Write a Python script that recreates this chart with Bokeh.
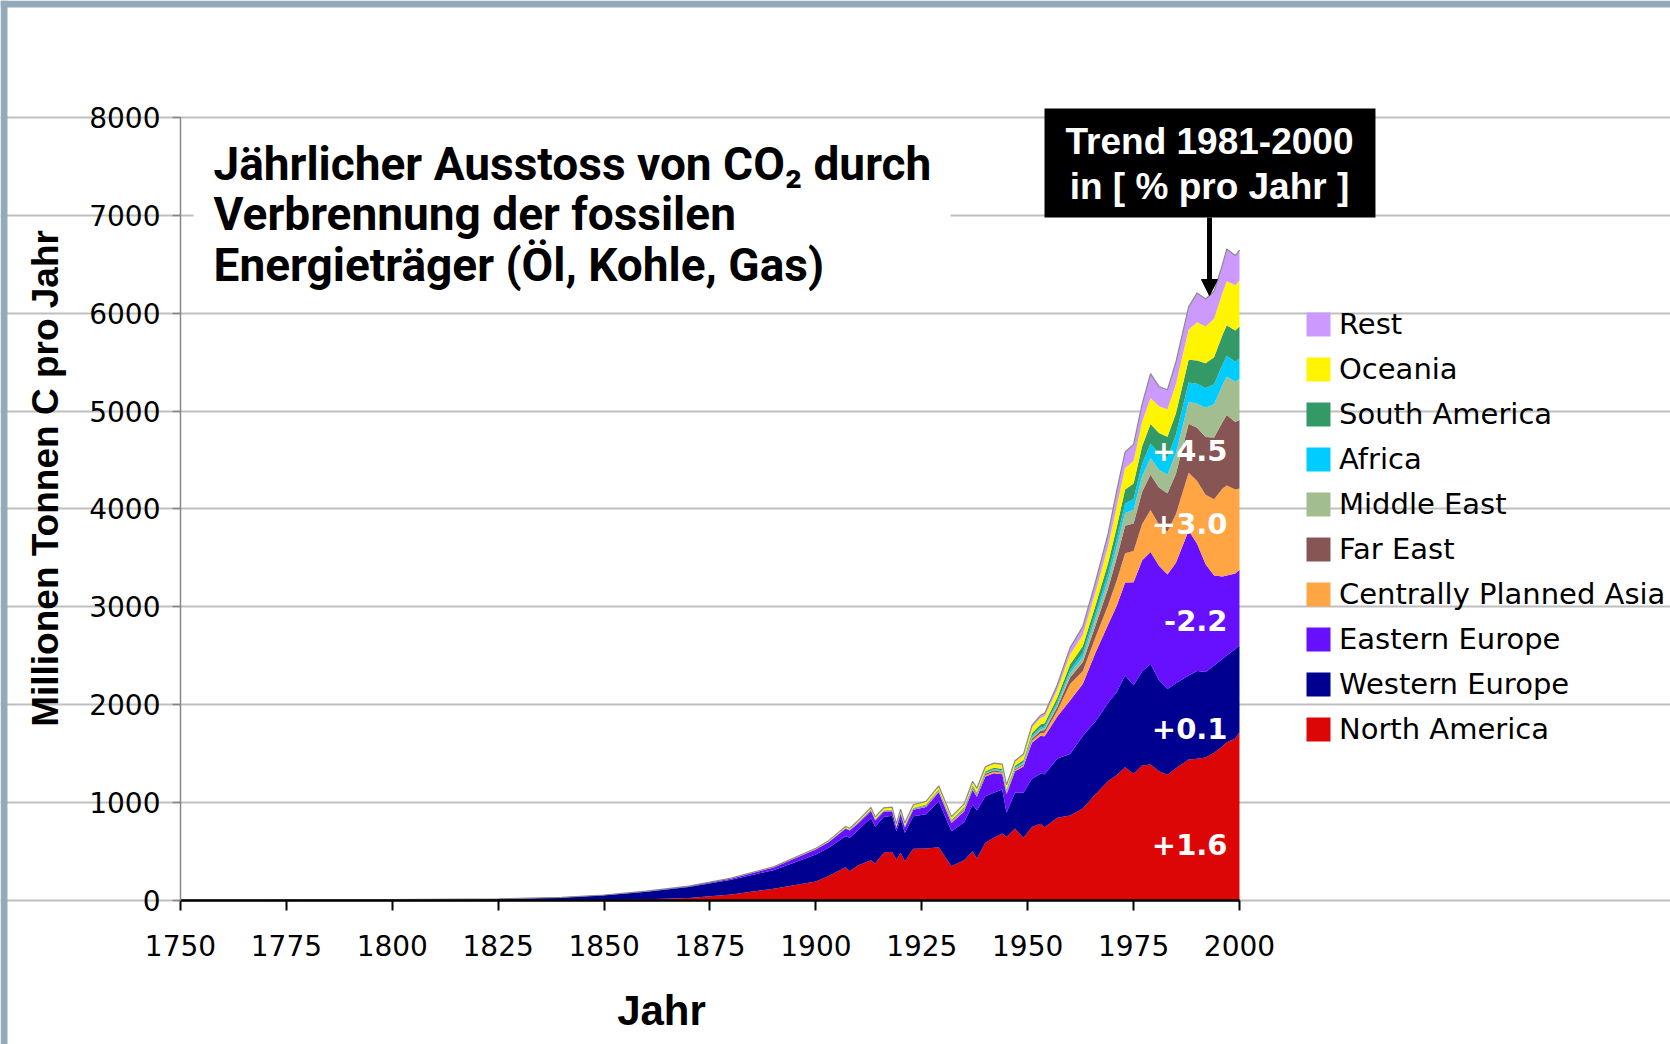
import numpy as np
from bokeh.plotting import figure
from bokeh.models import (ColumnDataSource, Range1d, FixedTicker, Legend, LegendItem,
                          Label, BoxAnnotation, Arrow, NormalHead)
from bokeh.transform import stack
from bokeh.embed import file_html
from bokeh.resources import INLINE

# ---------------- data (million tonnes C per year) ----------------
years = [1750, 1800, 1825, 1840, 1850, 1860, 1870, 1880, 1890, 1900,
         1903, 1907, 1908, 1910, 1913, 1914, 1916, 1918, 1919, 1920,
         1921, 1923, 1926, 1929, 1932, 1935, 1937, 1938, 1940, 1942,
         1944, 1945, 1947, 1949, 1951, 1953, 1954, 1957, 1960, 1963,
         1966, 1969, 1971, 1973, 1975, 1977, 1979, 1981, 1983, 1985,
         1988, 1990, 1992, 1994, 1996, 1997, 1999, 2000]

north_america = [0, 0, 0.5, 2, 5, 12, 25, 60, 120, 195,
                 250, 340, 300, 360, 412, 378, 487, 497, 420, 487,
                 402, 528, 531, 545, 351, 412, 504, 429, 589, 640,
                 684, 650, 735, 640, 750, 783, 749, 845, 868, 940,
                 1085, 1220, 1280, 1362, 1294, 1380, 1390, 1320, 1285, 1350,
                 1440, 1447, 1460, 1510, 1575, 1617, 1655, 1720]

western_europe = [3, 8, 15.5, 29, 48, 78, 112, 152, 190, 275,
                  290, 317, 340, 360, 432, 375, 365, 370, 288, 345,
                  289, 333, 349, 470, 357, 388, 477, 490, 477, 460,
                  450, 246, 365, 460, 493, 511, 540, 605, 630, 740,
                  745, 800, 848, 936, 906, 960, 1028, 930, 875, 870,
                  860, 898, 875, 890, 895, 886, 915, 885]

eastern_europe = [0, 0, 0.5, 1, 3, 5, 8, 14, 28, 50,
                  55, 75, 75, 70, 70, 65, 55, 45, 34, 55,
                  54, 65, 75, 90, 85, 110, 150, 140, 200, 200,
                  155, 190, 220, 270, 370, 386, 390, 430, 545, 533,
                  700, 800, 880, 950, 1052, 1133, 1142, 1170, 1170, 1230,
                  1480, 1300, 1100, 920, 840, 817, 770, 775]

centrally_planned_asia = [0, 0, 0, 0, 0, 0, 0, 0, 0.5, 1,
                          1, 2, 2, 2, 3, 3, 3, 3, 3, 4,
                          4, 5, 6, 8, 8, 10, 12, 12, 14, 15,
                          15, 12, 12, 12, 20, 30, 35, 60, 170, 130,
                          160, 200, 260, 300, 320, 370, 430, 420, 440, 500,
                          590, 640, 710, 780, 900, 920, 860, 830]

far_east = [0, 0, 0, 0, 0, 0, 0, 0, 1, 2,
            2, 3, 3, 3, 4, 4, 5, 5, 5, 6,
            6, 6, 7, 8, 8, 10, 12, 12, 15, 15,
            12, 8, 10, 12, 20, 25, 28, 40, 65, 90,
            120, 170, 230, 280, 280, 330, 360, 380, 390, 410,
            500, 545, 590, 630, 680, 720, 690, 700]

middle_east = [0, 0, 0, 0, 0, 0, 0, 0, 0, 0.5,
               0.5, 0.5, 0.5, 1, 1, 1, 1, 1, 1, 1,
               1, 1, 1.5, 2, 2, 3, 3, 3, 4, 4,
               5, 5, 6, 8, 12, 15, 17, 25, 40, 55,
               70, 90, 110, 130, 140, 160, 170, 180, 190, 210,
               225, 245, 300, 340, 380, 395, 410, 420]

africa = [0, 0, 0, 0, 0, 0, 0, 0, 0, 1,
          1, 2, 2, 2, 3, 3, 3, 3, 3, 3,
          3, 4, 4, 5, 5, 6, 7, 7, 8, 8,
          9, 9, 10, 12, 15, 17, 18, 25, 35, 42,
          52, 68, 82, 98, 110, 128, 150, 168, 178, 190,
          198, 205, 200, 205, 210, 212, 205, 210]

south_america = [0, 0, 0, 0, 0, 0, 0, 0, 0, 1,
                 1, 2, 2, 3, 4, 4, 4, 4, 4, 5,
                 5, 6, 7, 9, 8, 10, 12, 12, 14, 14,
                 15, 15, 18, 22, 28, 32, 35, 45, 58, 68,
                 82, 102, 122, 142, 158, 178, 198, 208, 210, 218,
                 232, 238, 255, 275, 300, 310, 320, 325]

oceania = [0, 0, 0, 0, 0, 0.5, 1, 2, 4, 8,
           10, 12, 12, 15, 18, 18, 20, 22, 22, 24,
           24, 26, 28, 30, 28, 32, 35, 35, 38, 40,
           40, 38, 42, 48, 60, 65, 68, 80, 100, 115,
           135, 170, 210, 220, 230, 250, 265, 275, 280, 300,
           310, 390, 375, 395, 430, 450, 460, 470]

rest = [0, 0, 0, 0, 0, 0, 0, 0, 0, 1,
        1, 2, 2, 2, 3, 3, 3, 3, 3, 3,
        3, 4, 4, 5, 5, 6, 7, 7, 8, 8,
        8, 8, 10, 12, 22, 28, 32, 50, 70, 85,
        105, 130, 160, 165, 170, 180, 250, 200, 200, 225,
        230, 300, 280, 280, 290, 330, 305, 310]

series_keys = ["north_america", "western_europe", "eastern_europe",
               "centrally_planned_asia", "far_east", "middle_east",
               "africa", "south_america", "oceania", "rest"]
series_labels = ["North America", "Western Europe", "Eastern Europe",
                 "Centrally Planned Asia", "Far East", "Middle East",
                 "Africa", "South America", "Oceania", "Rest"]
colors = ["#DD0606", "#000090", "#6610FF", "#FFA544", "#885555",
          "#A2BD8F", "#00CCFF", "#339966", "#FFF500", "#CC99FF"]

x_ticks = [1750, 1775, 1800, 1825, 1850, 1875, 1900, 1925, 1950, 1975, 2000]
y_ticks = [0, 1000, 2000, 3000, 4000, 5000, 6000, 7000, 8000]

trend_labels = ["+4.5", "+3.0", "-2.2", "+0.1", "+1.6"]

source = ColumnDataSource(dict(
    year=years, north_america=north_america, western_europe=western_europe,
    eastern_europe=eastern_europe, centrally_planned_asia=centrally_planned_asia,
    far_east=far_east, middle_east=middle_east, africa=africa,
    south_america=south_america, oceania=oceania, rest=rest))

# ---------------- figure ----------------
# The frame covers the whole canvas; axes are pinned with fixed_location / bounds
p = figure(frame_width=1670, frame_height=1044,
           min_border_left=0, min_border_right=0,
           min_border_top=0, min_border_bottom=0,
           x_range=Range1d(1707.51, 2101.75), y_range=Range1d(-1471.3, 9195.4),
           output_backend="svg", toolbar_location=None)
p.outline_line_color = None
p.background_fill_color = "white"
p.border_fill_color = "white"

renderers = p.varea_stack(stackers=series_keys, x="year", color=colors, source=source)
p.line(x="year", y=stack(*series_keys), source=source, line_color="#8a8a8a", line_width=1.2)

# axes
p.xaxis.fixed_location = 0
p.xaxis.bounds = (1750, 2000)
p.yaxis.fixed_location = 1750
p.yaxis.bounds = (0, 8000)
p.xaxis.ticker = FixedTicker(ticks=x_ticks)
p.yaxis.ticker = FixedTicker(ticks=y_ticks)
for ax in (p.xaxis[0], p.yaxis[0]):
    ax.major_label_text_font = "DejaVu Sans"
    ax.major_label_text_font_size = "28px"
    ax.major_label_text_color = "black"
    ax.minor_tick_line_color = None
    ax.major_tick_in = 0
p.xaxis.axis_line_color = "black"
p.xaxis.axis_line_width = 2.5
p.xaxis.major_tick_line_color = "black"
p.xaxis.major_tick_line_width = 2
p.xaxis.major_tick_out = 10
p.xaxis.major_label_standoff = 25
p.yaxis.axis_line_color = "#868686"
p.yaxis.axis_line_width = 1.5
p.yaxis.major_tick_line_color = "#868686"
p.yaxis.major_tick_line_width = 1.5
p.yaxis.major_tick_out = 8
p.yaxis.major_label_standoff = 12
p.xgrid.grid_line_color = None
p.ygrid.grid_line_color = "#BFBFBF"
p.ygrid.grid_line_width = 2
p.ygrid.bounds = (1750, 2001)

# slide frame bands (top and left)
p.add_layout(BoxAnnotation(top=9195.4, bottom=9123.9, fill_color="#93AABB",
                           fill_alpha=1.0, line_color=None))
p.add_layout(BoxAnnotation(left=1707.51, right=1709.16, fill_color="#93AABB",
                           fill_alpha=1.0, line_color=None))

# white box behind the title (hides the 7000 grid line)
p.add_layout(BoxAnnotation(left=1753.1, right=1931.8, top=7918, bottom=6130,
                           fill_color="white", fill_alpha=1.0, line_color=None))

title_lines = ["Jährlicher Ausstoss von CO₂ durch",
               "Verbrennung der fossilen",
               "Energieträger (Öl, Kohle, Gas)"]
for txt, yb in zip(title_lines, [7530, 7013, 6496]):
    p.add_layout(Label(x=1757.8, y=yb, text=txt, text_font="Roboto",
                       text_font_style="bold", text_font_size="46px",
                       text_color="black", text_align="left",
                       text_baseline="alphabetic"))

# trend box + arrow
p.add_layout(BoxAnnotation(left=1953.97, right=2032.1, top=8092, bottom=6978,
                           fill_color="black", fill_alpha=1.0, line_color=None))
for txt, yb in zip(["Trend 1981-2000", "in [ % pro Jahr ]"], [7755, 7295]):
    p.add_layout(Label(x=1992.92, y=yb, text=txt, text_font="Liberation Sans",
                       text_font_style="bold", text_font_size="37px",
                       text_color="white", text_align="center",
                       text_baseline="alphabetic"))
p.add_layout(Arrow(end=NormalHead(size=16, fill_color="black", line_color="black"),
                   x_start=1992.92, y_start=6978, x_end=1992.92, y_end=6181,
                   line_color="black", line_width=5))

# trend values inside the stack
for txt, yb in zip(trend_labels, [4599, 3849, 2865, 1761, 576]):
    p.add_layout(Label(x=1997.17, y=yb, text=txt, text_font="DejaVu Sans",
                       text_font_style="bold", text_font_size="29px",
                       text_color="white", text_align="right",
                       text_baseline="alphabetic"))

# axis titles
p.add_layout(Label(x=1718.1, y=4312, text="Millionen Tonnen C pro Jahr",
                   angle=np.pi / 2, text_font="Liberation Sans", text_font_style="bold",
                   text_font_size="37px", text_color="black",
                   text_align="center", text_baseline="middle"))
p.add_layout(Label(x=1863.55, y=-1124, text="Jahr", text_font="Liberation Sans",
                   text_font_style="bold", text_font_size="42px", text_color="black",
                   text_align="center", text_baseline="alphabetic"))

# legend
items = [LegendItem(label=lab, renderers=[r]) for lab, r in zip(series_labels, renderers)][::-1]
legend = Legend(items=items, location=(1303, 298), orientation="vertical",
                glyph_width=30, glyph_height=30, label_standoff=6, spacing=11,
                padding=0, margin=0, border_line_color=None, background_fill_alpha=0,
                label_text_font="DejaVu Sans", label_text_font_size="29px",
                label_text_color="black")
p.add_layout(legend)

open("out.html", "w").write(file_html(p, INLINE))
